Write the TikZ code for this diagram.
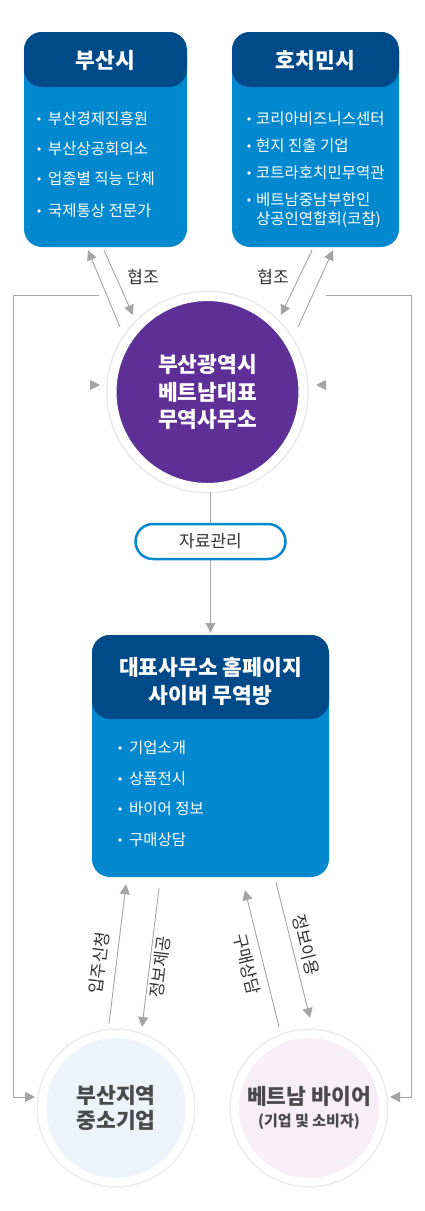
\documentclass[tikz,border=0pt]{standalone}
\usepackage{fontspec}
\setmainfont{Noto Sans CJK KR}
\usetikzlibrary{calc,arrows.meta}

\definecolor{hdrblue}{HTML}{004A8A}
\definecolor{bodyblue}{HTML}{0288CF}
\definecolor{officepurple}{HTML}{5E2F97}
\definecolor{linegray}{HTML}{A4A4A4}
\definecolor{smefill}{HTML}{EEF3FB}
\definecolor{buyerfill}{HTML}{F7EEF6}
\definecolor{txtgray}{HTML}{333333}
\definecolor{darktxt}{HTML}{4A4A4A}

\tikzset{
    infobox/.style={rectangle, rounded corners=18pt, fill=bodyblue, inner sep=0pt,
        path picture={\fill[hdrblue] (path picture bounding box.north west)
            rectangle ([yshift=-#1]path picture bounding box.north east);}},
    hdrtext/.style={text=white, align=center, inner sep=0pt,
        font=\bfseries\fontsize{21.5}{28}\selectfont},
    itemtext/.style={text=white, anchor=west, inner sep=0pt,
        font=\fontsize{15.5}{18}\selectfont},
    dot/.style={circle, fill=white, inner sep=0pt, minimum size=3.6pt},
    lbl/.style={text=txtgray, inner sep=0pt, font=\fontsize{17}{17}\selectfont},
    conn/.style={draw=linegray, line width=0.9pt, -{Triangle[length=10pt,width=10pt]}},
    plain/.style={draw=linegray, line width=0.9pt},
    client/.style={circle, minimum size=148pt, draw=white, line width=8pt,
        preaction={draw=black!8, line width=11pt}, inner sep=0pt,
        text=darktxt, align=center, font=\bfseries\fontsize{21.5}{25}\selectfont}
}

\begin{document}
\begin{tikzpicture}[x=1pt, y=-1pt]
    \useasboundingbox (0,0) rectangle (425,1211);

    % partner boxes
    \node[infobox=55pt, minimum width=163pt, minimum height=215pt] (busan) at (105.5,139.5) {};
    \node[infobox=55pt, minimum width=167pt, minimum height=215pt] (hcmc) at (315.5,139.5) {};
    \node[hdrtext] (busanT) at (105.5,60) {부산시};
    \node[hdrtext] (hcmcT) at (315.5,60) {호치민시};

    \foreach \y/\t [count=\i] in {119/부산경제진흥원, 149/부산상공회의소, 179/업종별 직능 단체, 211/국제통상 전문가}{
        \node[dot] (bd\i) at (39,\y) {};
        \node[itemtext] (bi\i) at (48,\y) {\t};
    }
    \foreach \y/\t [count=\i] in {119/코리아비즈니스센터, 146/현지 진출 기업, 173/코트라호치민무역관, 200/베트남중남부한인}{
        \node[dot] (hd\i) at (249,\y) {};
        \node[itemtext] (hi\i) at (256,\y) {\t};
    }
    \node[itemtext] (hi5) at (256,220) {상공인연합회(코참)};

    % trade office
    \node[circle, minimum size=191pt, fill=officepurple, draw=white, line width=9pt,
        preaction={draw=black!9, line width=12pt}, inner sep=0pt,
        text=white, align=center, font=\bfseries\fontsize{21.5}{27.5}\selectfont]
        (office) at (207.5,392) {부산광역시\\베트남대표\\무역사무소};

    % cooperation arrows
    \draw[conn] ($(office.center)+(-87.5,-65)$) -- ($(busan.south)+(-17.5,3)$);
    \draw[conn] ($(busan.south)+(-1.5,3)$) -- ($(office.center)+(-74.5,-77)$);
    \draw[conn] ($(hcmc.south)+(-3.5,3)$) -- ($(office.center)+(73.5,-77)$);
    \draw[conn] ($(office.center)+(90.5,-65)$) -- ($(hcmc.south)+(17.5,3)$);
    \node[lbl] (coopL) at (143,277) {협조};
    \node[lbl] (coopR) at (273,277) {협조};

    % data management
    \node[rectangle, rounded corners=17.5pt, draw=bodyblue, line width=2.5pt, fill=white,
        minimum width=150pt, minimum height=35pt, text=txtgray,
        font=\fontsize{17}{17}\selectfont] (data) at (210.5,541.5) {자료관리};
    \draw[plain] (data.north) -- (data.north |- office.south);

    % homepage box
    \node[infobox=84pt, minimum width=237pt, minimum height=242pt] (web) at (210.5,756) {};
    \node[hdrtext] (webT) at (210.5,681) {대표사무소 홈페이지\\사이버 무역방};
    \foreach \y/\t [count=\i] in {748/기업소개, 779/상품전시, 809/바이어 정보, 840/구매상담}{
        \node[dot] (wd\i) at (120,\y) {};
        \node[itemtext] (wi\i) at (129,\y) {\t};
    }
    \draw[conn] (data.south) -- ([yshift=2pt]web.north);

    % clients
    \node[client, fill=smefill] (sme) at (116,1108) {부산지역\\중소기업};
    \node[client, fill=buyerfill] (buyer) at (309,1108)
        {베트남 바이어\\[-3pt]{\fontsize{15}{16}\selectfont (기업 및 소비자)}};

    % loops
    \draw[conn] ($(office.center)+(-108.5,-97)$) -- ++(-86,0) |- ($(sme.west)+(-3,-11)$);
    \draw[conn] ($(office.center)+(118.5,-97)$) -- ++(85,0) |- ($(buyer.east)+(3,-11)$);
    \draw[conn] ($(office.west)+(-8.5,-7)$) -- ++(1,0);
    \draw[conn] ($(office.east)+(9.5,-7)$) -- ++(-1,0);

    % client arrows
    \draw[conn] ($(sme.center)+(-7,-84)$) -- ($(web.south)+(-84.5,7)$);
    \draw[conn] ($(web.south)+(-51.5,11)$) -- ($(sme.center)+(26,-81)$);
    \draw[conn] ($(buyer.center)+(-30,-81)$) -- ($(web.south)+(34.5,13)$);
    \draw[conn] ($(web.south)+(65.5,5)$) -- ($(buyer.center)+(1,-90)$);
    \node[lbl, rotate=83] (applyL) at (99,963) {입주신청};
    \node[lbl, rotate=83] (infoL) at (160,967) {정보제공};
    \node[lbl, rotate=-76] (consultL) at (247,964) {구매상담};
    \node[lbl, rotate=-76] (useL) at (306,945) {정보이용};
\end{tikzpicture}
\end{document}
